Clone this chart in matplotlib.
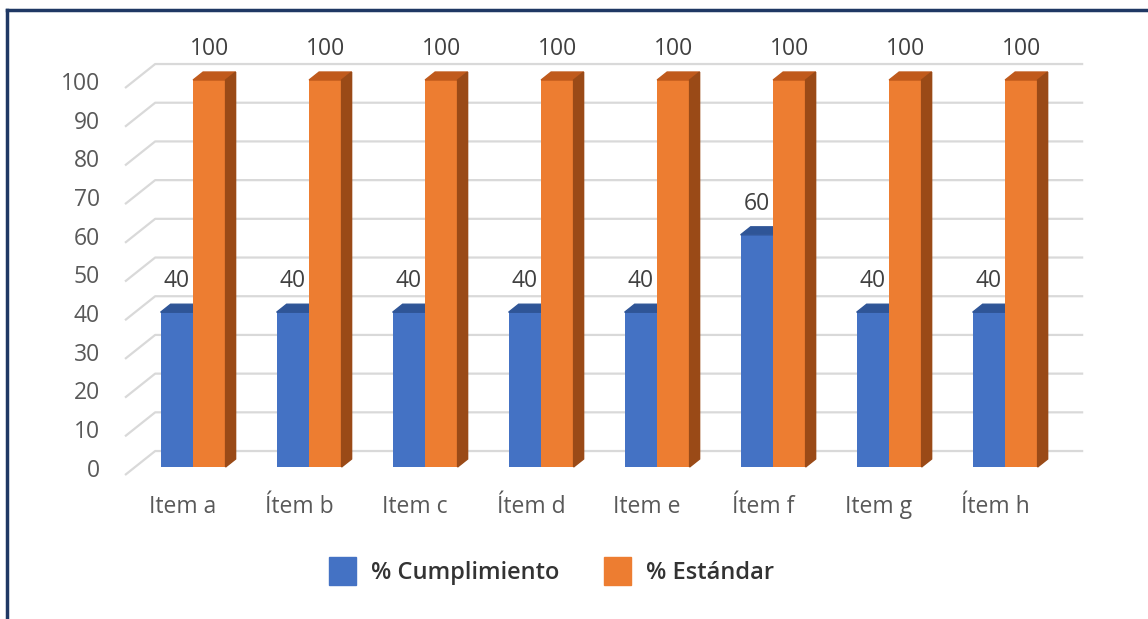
import numpy as np
import matplotlib.pyplot as plt
from matplotlib.patches import Polygon, Patch
from matplotlib.lines import Line2D

items = ["Item a", "Ítem b", "Item c", "Ítem d", "Item e", "Ítem f", "Item g", "Ítem h"]
cumplimiento = [40, 40, 40, 40, 40, 60, 40, 40]
estandar = [100, 100, 100, 100, 100, 100, 100, 100]
yticks = list(range(0, 101, 10))
series_names = ["% Cumplimiento", "% Estándar"]

blue, blue_top = "#4472C4", "#2F5597"
orange, orange_top, orange_side = "#ED7D31", "#C05A1C", "#9A4A17"
grid_c = "#D9D9D9"
label_c = "#595959"
fs = 16.5

plt.rcParams["font.family"] = ["Open Sans", "DejaVu Sans"]

fig = plt.figure(figsize=(11.48, 6.19), dpi=100)
ax = fig.add_axes([0.1089, 0.2326, 0.8084, 0.6252])
ax.set_xlim(-0.5, len(items) - 0.5)
ax.set_ylim(0, 100)
ax.axis("off")

# fake 3d: depth of the back wall and of the bars, in data units
wall_dx, wall_dy = 0.26, 6.2
bar_dx, bar_dy = wall_dx / 3, wall_dy / 3
w = 0.28
x = np.arange(len(items))
x_lo, x_hi = ax.get_xlim()

# grid: short diagonal on the side wall, then the line on the back wall
for v in yticks:
    ax.plot([x_lo, x_lo + wall_dx, x_hi + wall_dx], [v, v + wall_dy, v + wall_dy],
            color=grid_c, lw=1.6, clip_on=False, zorder=1, solid_capstyle="butt")
    ax.annotate(str(v), (x_lo, v), xytext=(-18, 3), textcoords="offset points",
                ha="right", va="center", fontsize=fs, color=label_c,
                annotation_clip=False)

# front faces
ax.bar(x + bar_dx - w / 2, cumplimiento, width=w, bottom=bar_dy, color=blue,
       zorder=2, clip_on=False)
ax.bar(x + bar_dx + w / 2, estandar, width=w, bottom=bar_dy, color=orange,
       zorder=4, clip_on=False)

for i in x:
    # blue top face
    x0, x1 = i + bar_dx - w, i + bar_dx
    top = cumplimiento[i] + bar_dy
    ax.add_patch(Polygon([(x0, top), (x1, top), (x1 + bar_dx, top + bar_dy),
                          (x0 + bar_dx, top + bar_dy)], closed=True,
                         color=blue_top, zorder=3, clip_on=False))
    ax.annotate(str(cumplimiento[i]), ((x0 + x1) / 2, top), xytext=(0, 22.5),
                textcoords="offset points", ha="center", va="center",
                fontsize=fs, color="#404040", annotation_clip=False)

    # orange top and side faces
    x0, x1 = i + bar_dx, i + bar_dx + w
    top = estandar[i] + bar_dy
    ax.add_patch(Polygon([(x0, top), (x1, top), (x1 + bar_dx, top + bar_dy),
                          (x0 + bar_dx, top + bar_dy)], closed=True,
                         color=orange_top, zorder=5, clip_on=False))
    ax.add_patch(Polygon([(x1, bar_dy), (x1, top), (x1 + bar_dx, top + bar_dy),
                          (x1 + bar_dx, 2 * bar_dy)], closed=True,
                         color=orange_side, zorder=5, clip_on=False))
    ax.annotate(str(estandar[i]), ((x0 + x1) / 2, top), xytext=(0, 22.5),
                textcoords="offset points", ha="center", va="center",
                fontsize=fs, color="#404040", annotation_clip=False)

    ax.annotate(items[i], (i, 0), xytext=(0, -23), textcoords="offset points",
                ha="center", va="center", fontsize=fs, color=label_c,
                annotation_clip=False)

handles = [Patch(color=blue), Patch(color=orange)]
fig.legend(handles, series_names, ncol=2, loc="center", bbox_to_anchor=(0.4804, 0.0775),
           frameon=False, prop=dict(weight="semibold", size=17), labelcolor="#333333",
           handlelength=1.15, handleheight=1.5, handletextpad=0.64, columnspacing=1.9)

# frame around the chart
border = "#1F3864"
fx, fy = 7 / 1148, 1 - 10 / 619
fig.add_artist(Line2D([fx, 1], [fy, fy], transform=fig.transFigure, color=border, lw=2.5))
fig.add_artist(Line2D([fx, fx], [0, fy], transform=fig.transFigure, color=border, lw=2.5))

fig.savefig("out.png", dpi=100)
